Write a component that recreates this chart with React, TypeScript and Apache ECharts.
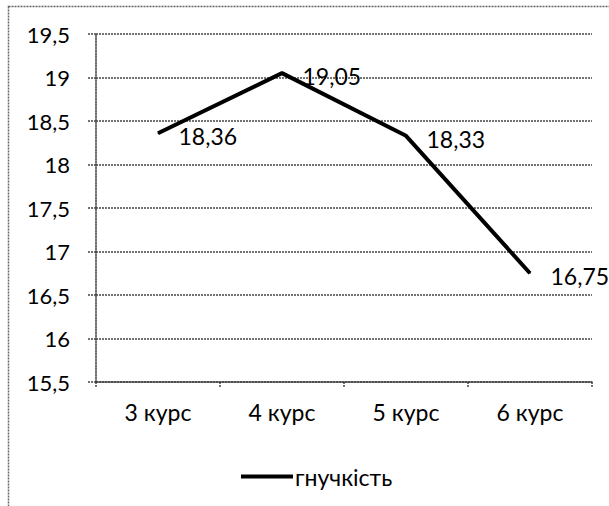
import React, { useEffect, useRef } from "react";
import * as echarts from "echarts";

const categories = ["3 курс", "4 курс", "5 курс", "6 курс"];
const values = [18.36, 19.05, 18.33, 16.75];
const seriesName = "гнучкість";
const yMin = 15.5;
const yMax = 19.5;
const yStep = 0.5;

const FONT = "Lato";
const comma = (v: number) => String(v).replace(".", ",");

export default function App() {
  const ref = useRef<HTMLDivElement>(null);
  useEffect(() => {
    if (!ref.current) return;
    const chart = echarts.init(ref.current, null, { renderer: "svg" });
    const dotted = { color: "#444", width: 1.5, type: [2, 1] as any };
    chart.setOption({
      animation: false,
      backgroundColor: "#fff",
      textStyle: { fontFamily: FONT, color: "#000" },
      graphic: [
        {
          type: "rect",
          shape: { x: 8.5, y: 6.5, width: 640, height: 540 },
          style: { fill: "none", stroke: "#666", lineWidth: 1.5, lineDash: [2, 1] },
          silent: true,
        },
      ],
      grid: { left: 96, right: 17, top: 34, bottom: 124 },
      legend: {
        left: 236,
        top: 460,
        icon: "rect",
        itemWidth: 52,
        itemHeight: 4,
        itemGap: 10,
        textStyle: { fontFamily: FONT, fontSize: 23, color: "#000", padding: [0, 0, 0, -3] },
        data: [{ name: seriesName, itemStyle: { color: "#000" } }],
      },
      xAxis: {
        type: "category",
        data: categories,
        boundaryGap: true,
        axisLine: { show: true, lineStyle: dotted },
        axisTick: { show: true, length: 5, lineStyle: dotted },
        axisLabel: { fontFamily: FONT, fontSize: 23, color: "#000", margin: 18 },
      },
      yAxis: {
        type: "value",
        min: yMin,
        max: yMax,
        interval: yStep,
        axisLine: { show: true, lineStyle: dotted },
        axisTick: { show: true, length: 9, lineStyle: dotted },
        splitLine: { show: true, lineStyle: dotted },
        axisLabel: {
          fontFamily: FONT,
          fontSize: 22,
          color: "#000",
          margin: 26,
          formatter: (v: number) => comma(v),
        },
      },
      series: [
        {
          name: seriesName,
          type: "line",
          data: values,
          symbol: "circle",
          symbolSize: 1,
          itemStyle: { color: "#000" },
          lineStyle: { color: "#000", width: 4 },
          label: {
            show: true,
            position: "right",
            distance: 20,
            offset: [0, 3],
            fontFamily: FONT,
            fontSize: 23,
            color: "#000",
            formatter: (p: any) => comma(p.value),
          },
        },
      ],
    });
    return () => chart.dispose();
  }, []);
  return (
    <div
      ref={ref}
      style={{ position: "absolute", left: 0, top: 0, width: 609, height: 506 }}
    />
  );
}
